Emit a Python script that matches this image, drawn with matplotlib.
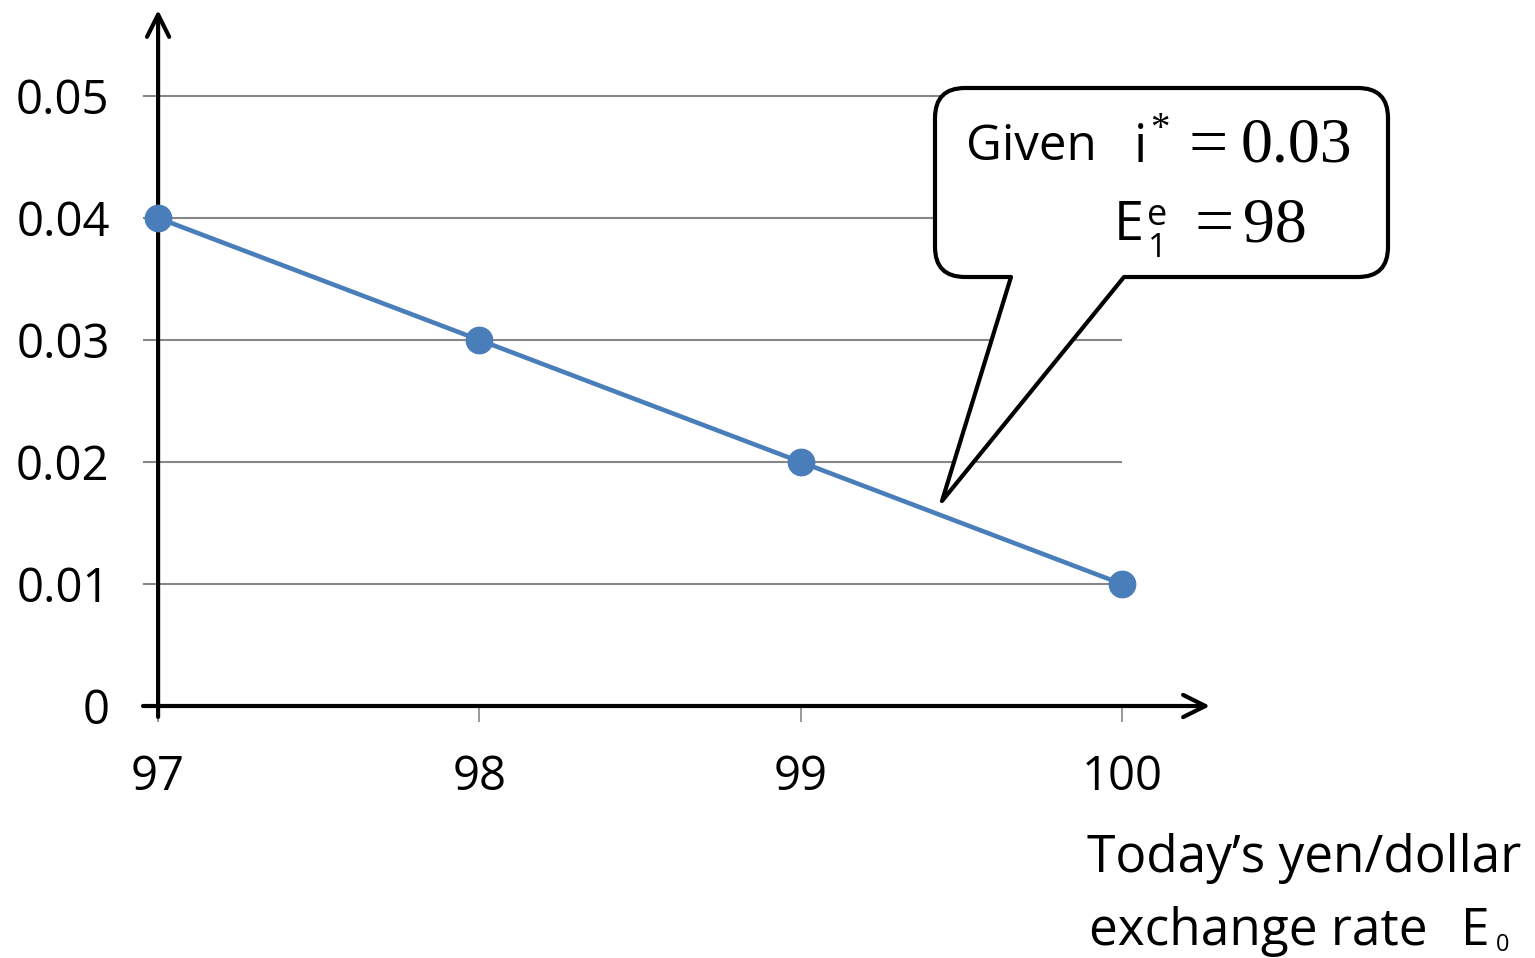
import matplotlib

matplotlib.use("Agg")
import matplotlib.pyplot as plt
from matplotlib.path import Path
from matplotlib.patches import PathPatch

W, H = 1535, 958

exchange_rate = [97, 98, 99, 100]
dollar_return = [0.04, 0.03, 0.02, 0.01]
y_ticks = [0, 0.01, 0.02, 0.03, 0.04, 0.05]
y_tick_labels = ["0", "0.01", "0.02", "0.03", "0.04", "0.05"]
x_tick_labels = ["97", "98", "99", "100"]

SANS = "Open Sans"
SERIF = "Liberation Serif"
BLUE = "#4a7ebb"
GRID = "#878787"


def px(x, y):
    # pixel position (top-left origin) -> figure fraction
    return x / W, 1 - y / H


def main() -> None:
    fig = plt.figure(figsize=(W / 100, H / 100), dpi=100)
    left, bottom = px(143, 706)
    right, top = px(1210, 10)
    ax = fig.add_axes([left, bottom, right - left, top - bottom])
    xmin, xmax = 96.953, 100.274
    ax.set_xlim(xmin, xmax)
    ax.set_ylim(0, 0.05705)
    for s in ax.spines.values():
        s.set_visible(False)

    # gridlines (extend left past the axis like tick marks)
    ax.hlines(y_ticks[1:], xmin, exchange_rate[-1], colors=GRID, linewidth=1.5, zorder=1)

    ax.set_xticks(exchange_rate)
    ax.set_xticklabels(x_tick_labels, fontfamily=SANS, fontsize=34)
    ax.tick_params(axis="x", length=11.5, width=1.2, color=GRID, pad=23)
    ax.set_yticks(y_ticks)
    ax.set_yticklabels(y_tick_labels, fontfamily=SANS, fontsize=34)
    ax.tick_params(axis="y", length=0, pad=24)
    for lab in ax.get_yticklabels():
        lab.set_verticalalignment("center_baseline")

    # axes with open arrow heads
    arrow = dict(arrowstyle="->,head_length=1.6,head_width=0.8", color="black",
                 linewidth=3, shrinkA=0, shrinkB=0, mutation_scale=10)
    ax.annotate("", xy=(xmax, 0), xytext=(xmin, 0), arrowprops=arrow,
                annotation_clip=False, zorder=3)
    ax.annotate("", xy=(97, 0.05705), xytext=(97, -0.0009), arrowprops=arrow,
                annotation_clip=False, zorder=3)

    ax.plot(exchange_rate, dollar_return, color=BLUE, linewidth=3.3, marker="o",
            markersize=19, zorder=4, clip_on=False)

    # speech bubble
    l, r, t, b, rad = 935, 1388, 88, 277, 30
    tip = (942, 501)
    pts = [
        ((l + rad, t), Path.MOVETO),
        ((r - rad, t), Path.LINETO),
        ((r, t), Path.CURVE3), ((r, t + rad), Path.CURVE3),
        ((r, b - rad), Path.LINETO),
        ((r, b), Path.CURVE3), ((r - rad, b), Path.CURVE3),
        ((1124, b), Path.LINETO),
        (tip, Path.LINETO),
        ((1011, b), Path.LINETO),
        ((l + rad, b), Path.LINETO),
        ((l, b), Path.CURVE3), ((l, b - rad), Path.CURVE3),
        ((l, t + rad), Path.LINETO),
        ((l, t), Path.CURVE3), ((l + rad, t), Path.CURVE3),
        ((l + rad, t), Path.CLOSEPOLY),
    ]
    verts = [px(*p) for p, _ in pts]
    codes = [c for _, c in pts]
    bubble = PathPatch(Path(verts, codes), facecolor="white", edgecolor="black",
                       linewidth=3, joinstyle="round", transform=fig.transFigure, zorder=5)
    fig.patches.append(bubble)

    def txt(x, y, s, family=SANS, size=33, va="baseline", **kw):
        fig.text(*px(x, y), s, fontfamily=family, fontsize=size, va=va, ha="left",
                 zorder=6, **kw)

    txt(966, 160, "Given", size=35.5)
    txt(1134, 162, "i", size=38)
    txt(1150, 111, "*", family=SERIF, size=28, va="top")
    txt(1189, 165, "=", family=SERIF, size=50)
    txt(1241, 162, "0.03", family=SERIF, size=46)
    txt(1114, 240, "E", size=39)
    txt(1147, 225, "e", size=26)
    txt(1148, 257, "1", size=24)
    txt(1194, 244, "=", family=SERIF, size=50)
    txt(1243, 241, "98", family=SERIF, size=46)

    # x axis caption
    txt(1087, 872, "Today\u2019s yen/dollar", size=37)
    txt(1089, 945, "exchange rate", size=37)
    txt(1461, 945, "E", size=37)
    txt(1496, 951, "0", size=17)

    fig.savefig("out.png", dpi=100)


if __name__ == "__main__":
    main()
